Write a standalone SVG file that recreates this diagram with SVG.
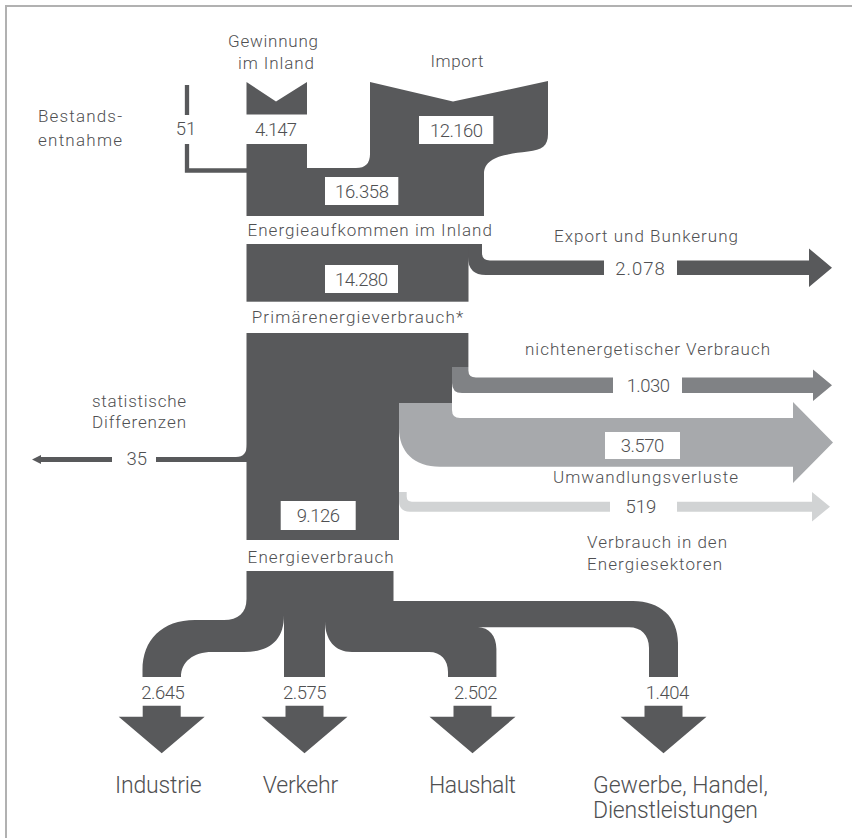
<svg xmlns="http://www.w3.org/2000/svg" width="852" height="838" viewBox="0 0 852 838">
<style>
.d{fill:#58595b}
.m{fill:#808285}
.l{fill:#a7a9ac}
.vl{fill:#d1d3d4}
.box{fill:#ffffff}
text{font-family:Roboto,"Liberation Sans",sans-serif;font-weight:300;fill:#4f5052}
.lab{font-size:17px}
.num{font-size:18.5px}
.big{font-size:23px}
.c{text-anchor:middle}
</style>
<defs>
<path id="down" d="M-19,0 H19 V11 H43 L0,47.6 L-43,11 H-19 Z"/>
</defs>
<rect width="852" height="838" fill="#ffffff"/>
<path d="M6,838 V6 H852" fill="none" stroke="#b1b1b1" stroke-width="2"/>

<g id="connectors">
  <path d="M187,85 V115 M187,144 V170.5 H248" fill="none" stroke="#58595b" stroke-width="4.3"/>
  <polygon class="d" points="246.5,82 276,101.5 307,82 307,114.5 246.5,114.5"/>
  <path class="d" d="M468,244 H482 V253 Q482,260.5 490,260.5 H604 V275 H486 Q468,275 468,257 Z"/>
  <path class="d" d="M677,260.5 H809 V248.5 L832,267.7 L809,287 V275 H677 Z"/>
  <path class="m" d="M452,367 H468.4 V370.5 Q468.4,377.5 476,377.5 H613 V393 H462 Q452,393 452,383 Z"/>
  <path class="m" d="M682,377.5 H813 V369.5 L832,385.3 L813,401 V393 H682 Z"/>
  <path class="l" d="M399,403 H452 V410 Q452,418 460,418 H793 V402 L833,442.4 L793,483 V466.7 H440 C414,466.7 399,452 399,428 Z"/>
  <path class="vl" d="M399,492 H406.7 V496.5 Q406.7,501.7 412,501.7 H610 V511.7 H410 Q399,511.7 399,501 Z"/>
  <path class="vl" d="M677,501.7 H812 V492 L830,506.7 L812,521.5 V511.7 H677 Z"/>
  <path class="d" d="M247,444 Q247,457 236,457 H156 V462 H247 Z"/>
  <path class="d" d="M112,457 H41 V455 L32,459.5 L41,464 V462 H112 Z"/>
  <path class="d" d="M246.5,571 H393.5 V601 H633 C660,601 678,617 678,643 V677 H649 V648 C649,635 641,627.3 629,627.3 H478 C489,627.3 496.4,636 496.4,649 V677 H448 V672 C448,660 441,652 429,652 H352 C335,652 325,640 325,621 V677 H284 V615 C284,640 270,652 244,652 H212 C193,652 181,662 181,677 H142.5 V670 C142.5,640 162,620 195,620 H224 C238,620 246.5,613 246.5,599 Z"/>
  <use href="#down" class="d" x="161.7" y="705.7"/>
  <use href="#down" class="d" x="304.5" y="705.7"/>
  <use href="#down" class="d" x="472.5" y="705.7"/>
  <use href="#down" class="d" x="663.5" y="705.7"/>
</g>

<g id="bestandsentnahme">
  <text class="lab" x="38" y="122" textLength="84">Bestands-</text>
  <text class="lab" x="38" y="146" textLength="84">entnahme</text>
  <text class="num c" x="186" y="135">51</text>
</g>

<g id="gewinnung">
  <text class="lab c" x="273" y="47" textLength="90">Gewinnung</text>
  <text class="lab c" x="276" y="68.5" textLength="76">im Inland</text>
  <text class="num c" x="276" y="135.7" textLength="42">4.147</text>
</g>

<g id="import">
  <text class="lab c" x="457" y="66.5" textLength="53">Import</text>
</g>

<g id="aufkommen">
  <path class="d" d="M246.5,144 H307 V168 H356 Q370,168 370,154 V82 L453,101.5 L548,81 V134 C548,146 542,150 528,151.5 C500,154.5 484,159 484,174 V216 H246.5 Z"/>
  <rect class="box" x="419" y="116" width="74.3" height="28"/>
  <text class="num c" x="456.5" y="136.5" textLength="53">12.160</text>
  <rect class="box" x="325" y="177" width="73.3" height="28"/>
  <text class="num c" x="362" y="197.5" textLength="54">16.358</text>
  <text class="lab c" x="369.7" y="236" textLength="244.5">Energieaufkommen im Inland</text>
</g>

<g id="export">
  <text class="lab c" x="646" y="241.5" textLength="184">Export und Bunkerung</text>
  <text class="num c" x="640" y="274.5" textLength="49.5">2.078</text>
</g>

<g id="primaer">
  <rect class="d" x="246.5" y="244" width="222" height="57.7"/>
  <rect class="box" x="325" y="265" width="73" height="28"/>
  <text class="num c" x="361.5" y="285.5" textLength="53">14.280</text>
  <text class="lab c" x="357.5" y="323.3" textLength="211.6">Primärenergieverbrauch*</text>
</g>

<g id="nichtenergetisch">
  <text class="lab c" x="647.5" y="355" textLength="245">nichtenergetischer Verbrauch</text>
  <text class="num c" x="648.3" y="392" textLength="43.3">1.030</text>
</g>

<g id="umwandlung">
  <rect class="box" x="605" y="432" width="75" height="27"/>
  <text class="num c" x="642.5" y="452" textLength="43.3">3.570</text>
  <text class="lab c" x="645.5" y="483.3" textLength="185">Umwandlungsverluste</text>
</g>

<g id="sektoren">
  <text class="num c" x="641" y="512.5">519</text>
  <text class="lab" x="587" y="548.3" textLength="140">Verbrauch in den</text>
  <text class="lab" x="587" y="570" textLength="135">Energiesektoren</text>
</g>

<g id="statistisch">
  <text class="lab c" x="139" y="406.7" textLength="94">statistische</text>
  <text class="lab c" x="139" y="428.3" textLength="94">Differenzen</text>
  <text class="num c" x="136.7" y="465">35</text>
</g>

<g id="energieverbrauch">
  <path class="d" d="M246.5,333 H468.4 V367 H452 V403 H399 V540 H246.5 Z"/>
  <rect class="box" x="280.7" y="501" width="75" height="29"/>
  <text class="num c" x="318.3" y="522" textLength="43.3">9.126</text>
  <text class="lab c" x="320.6" y="563" textLength="146">Energieverbrauch</text>
</g>

<g id="industrie">
  <text class="num c" x="163" y="699" textLength="43.4">2.645</text>
  <text class="big c" x="158.3" y="793" textLength="86.5">Industrie</text>
</g>
<g id="verkehr">
  <text class="num c" x="304.8" y="699" textLength="43.4">2.575</text>
  <text class="big c" x="300.5" y="793" textLength="75.5">Verkehr</text>
</g>
<g id="haushalt">
  <text class="num c" x="475.7" y="699" textLength="43.4">2.502</text>
  <text class="big c" x="472.5" y="793" textLength="87">Haushalt</text>
</g>
<g id="gewerbe">
  <text class="num c" x="667.5" y="699" textLength="43.4">1.404</text>
  <text class="big" x="593" y="793" textLength="174.8">Gewerbe, Handel,</text>
  <text class="big" x="593" y="818" textLength="165">Dienstleistungen</text>
</g>
</svg>
